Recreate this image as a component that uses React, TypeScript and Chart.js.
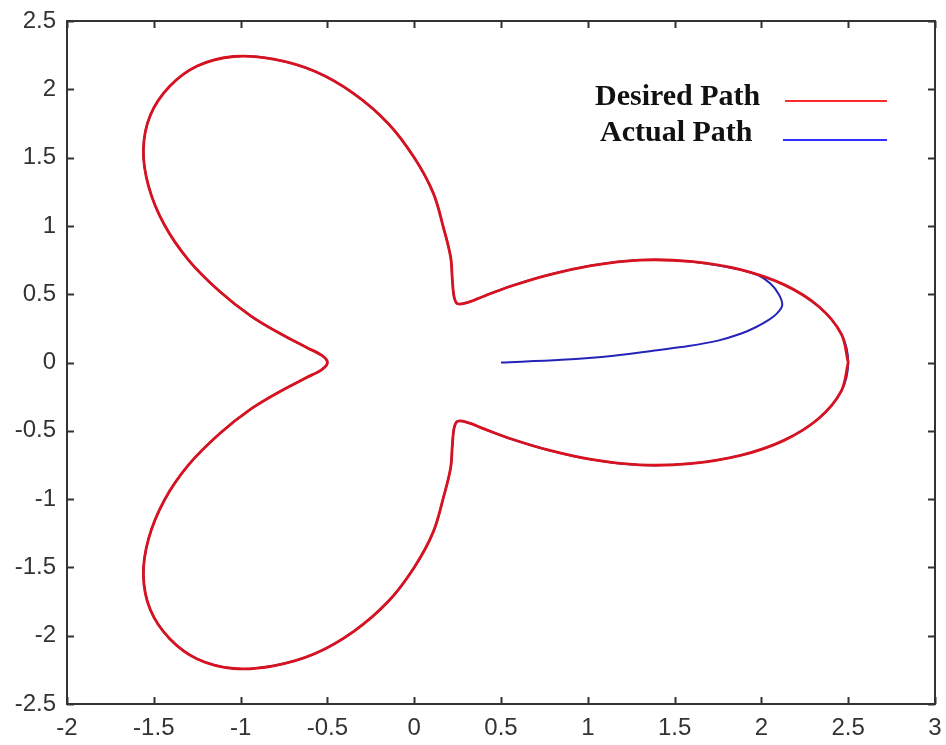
import React, { useEffect, useRef } from "react";
import { Chart, registerables } from "chart.js";

Chart.register(...registerables);

// Desired path (counter-clockwise from (2.5, 0))
const desiredX = [
  2.50, 2.46, 2.33, 2.13, 1.88, 1.59, 1.30, 1.02, 0.77, 0.56, 0.41, 0.31, 0.25,
  0.23, 0.22, 0.21, 0.17, 0.11, 0.00, -0.15, -0.35, -0.57, -0.81, -1.04, -1.25,
  -1.41, -1.52, -1.56, -1.53, -1.44, -1.30, -1.12, -0.94, -0.77, -0.62, -0.53, -0.50,
  -0.53, -0.62, -0.77, -0.94, -1.12, -1.30, -1.44, -1.53, -1.56, -1.52, -1.41, -1.25,
  -1.04, -0.81, -0.57, -0.35, -0.15, 0.00, 0.11, 0.17, 0.21, 0.22, 0.23, 0.25, 0.31,
  0.41, 0.56, 0.77, 1.02, 1.30, 1.59, 1.88, 2.13, 2.33, 2.46, 2.50,
];
const desiredY = [
  0.00, 0.21, 0.41, 0.57, 0.68, 0.74, 0.75, 0.71, 0.64, 0.56, 0.49, 0.44, 0.43,
  0.48, 0.60, 0.77, 0.98, 1.24, 1.50, 1.75, 1.97, 2.13, 2.22, 2.24, 2.17,
  2.02, 1.81, 1.56, 1.29, 1.01, 0.75, 0.52, 0.34, 0.21, 0.11, 0.05, 0.00,
  -0.05, -0.11, -0.21, -0.34, -0.52, -0.75, -1.01, -1.29, -1.56, -1.81, -2.02, -2.17,
  -2.24, -2.22, -2.13, -1.97, -1.75, -1.50, -1.24, -0.98, -0.77, -0.60, -0.48, -0.43, -0.44,
  -0.49, -0.56, -0.64, -0.71, -0.75, -0.74, -0.68, -0.57, -0.41, -0.21, 0.00,
];

// Actual path: start segment before it joins the desired path
const actualStartX = [0.50, 0.85, 1.15, 1.40, 1.58, 1.75, 1.88, 1.97, 2.04, 2.09, 2.12, 2.10, 2.05, 1.98];
const actualStartY = [0.00, 0.02, 0.05, 0.09, 0.12, 0.16, 0.21, 0.26, 0.31, 0.36, 0.42, 0.50, 0.58, 0.64];
const actualJoinIndex = 4; // desired point where the actual path merges

const xMin = -2, xMax = 3, yMin = -2.5, yMax = 2.5, tickStep = 0.5;
const legendLabels = ["Desired Path", "Actual Path"];
const RED = "#d8121e";
const BLUE = "#2424b8";

const toPoints = (xs: number[], ys: number[]) => xs.map((x, i) => ({ x, y: ys[i] }));

const frame = {
  id: "frame",
  afterDraw(chart: any) {
    const { ctx, chartArea, scales } = chart;
    const { left, right, top, bottom } = chartArea;
    ctx.save();
    ctx.strokeStyle = "#333";
    ctx.lineWidth = 2;
    ctx.strokeRect(left, top, right - left, bottom - top);
    const tl = 7;
    ctx.beginPath();
    scales.x.ticks.forEach((t: any) => {
      const px = Math.round(scales.x.getPixelForValue(t.value)) + 0.5;
      ctx.moveTo(px, bottom); ctx.lineTo(px, bottom - tl);
      ctx.moveTo(px, top); ctx.lineTo(px, top + tl);
    });
    scales.y.ticks.forEach((t: any) => {
      const py = Math.round(scales.y.getPixelForValue(t.value)) + 0.5;
      ctx.moveTo(left, py); ctx.lineTo(left + tl, py);
      ctx.moveTo(right, py); ctx.lineTo(right - tl, py);
    });
    ctx.stroke();

    // legend
    ctx.font = 'bold 30px "Liberation Serif", "Times New Roman", serif';
    ctx.fillStyle = "#111";
    ctx.textBaseline = "alphabetic";
    ctx.fillText(legendLabels[0], left + 528, top + 84);
    ctx.fillText(legendLabels[1], left + 533, top + 120);
    ctx.lineWidth = 2;
    ctx.strokeStyle = "#ff2a2a";
    ctx.beginPath(); ctx.moveTo(left + 718, top + 80); ctx.lineTo(left + 820, top + 80); ctx.stroke();
    ctx.strokeStyle = "#3030ff";
    ctx.beginPath(); ctx.moveTo(left + 716, top + 119); ctx.lineTo(left + 820, top + 119); ctx.stroke();
    ctx.restore();
  },
};

const tickFont = { family: '"Liberation Sans", Arial, sans-serif', size: 24 };
const fmt = (v: any) => String(Math.round(Number(v) * 10) / 10);

export default function App() {
  const ref = useRef<HTMLCanvasElement | null>(null);
  useEffect(() => {
    if (!ref.current) return;
    const actualX = [...actualStartX, ...desiredX.slice(actualJoinIndex), ...desiredX.slice(1, actualJoinIndex + 1)];
    const actualY = [...actualStartY, ...desiredY.slice(actualJoinIndex), ...desiredY.slice(1, actualJoinIndex + 1)];
    const chart = new Chart(ref.current, {
      type: "scatter",
      data: {
        datasets: [
          {
            label: legendLabels[0],
            data: toPoints(desiredX, desiredY),
            showLine: true,
            borderColor: RED,
            borderWidth: 2.8,
            pointRadius: 0,
            tension: 0.35,
            order: 0,
          },
          {
            label: legendLabels[1],
            data: toPoints(actualX, actualY),
            showLine: true,
            borderColor: BLUE,
            borderWidth: 2,
            pointRadius: 0,
            tension: 0.35,
            order: 1,
          },
        ],
      },
      options: {
        responsive: false,
        animation: false,
        layout: { padding: { top: 21, right: 11, left: 0, bottom: 0 } },
        plugins: { legend: { display: false }, tooltip: { enabled: false } },
        scales: {
          x: {
            type: "linear",
            min: xMin,
            max: xMax,
            grid: { display: false, drawTicks: false },
            border: { display: false },
            ticks: { stepSize: tickStep, padding: 10, color: "#333", font: tickFont, callback: fmt },
            afterFit: (s: any) => { s.height = 41; s.paddingLeft = 0; s.paddingRight = 0; },
          },
          y: {
            type: "linear",
            min: yMin,
            max: yMax,
            grid: { display: false, drawTicks: false },
            border: { display: false },
            ticks: { stepSize: tickStep, padding: 11, color: "#333", font: tickFont, callback: fmt },
            afterFit: (s: any) => { s.width = 67; s.paddingTop = 0; s.paddingBottom = 0; },
          },
        },
      },
      plugins: [frame],
    });
    return () => chart.destroy();
  }, []);
  return (
    <div style={{ position: "fixed", left: 0, top: 0, width: 946, height: 745, background: "#fff" }}>
      <canvas ref={ref} width={946} height={745} />
    </div>
  );
}
